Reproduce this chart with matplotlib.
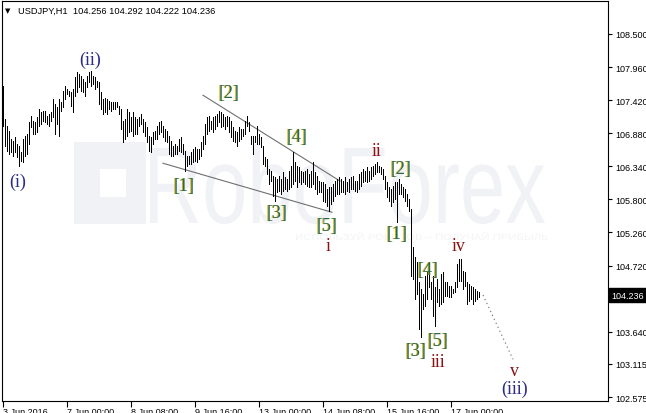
## USDJPY H1 BAR CHART WITH WAVE COUNT ##
import matplotlib
matplotlib.use("Agg")
import matplotlib.pyplot as plt
import matplotlib.transforms as mtransforms
from matplotlib.textpath import TextPath
from matplotlib.patches import PathPatch, Rectangle
from matplotlib.font_manager import FontProperties


## DATA ##
# one H1 bar per entry, first bar 3 Jun 2016 16:00
bar_high = [
    107.65, 107.11, 107.00, 106.92, 106.79, 106.75, 106.82, 106.70, 106.67, 106.57,
    106.79, 106.84, 106.87, 107.06, 107.16, 107.08, 107.06, 107.15, 107.28, 107.23,
    107.24, 107.24, 107.16, 107.19, 107.23, 107.44, 107.36, 107.31, 107.44, 107.39,
    107.57, 107.65, 107.60, 107.57, 107.55, 107.60, 107.80, 107.88, 107.85, 107.81,
    107.77, 107.72, 107.81, 107.88, 107.90, 107.81, 107.80, 107.73, 107.72, 107.55,
    107.44, 107.45, 107.44, 107.41, 107.39, 107.39, 107.39, 107.39, 107.32, 107.28,
    107.08, 107.11, 107.28, 107.23, 107.15, 107.23, 107.15, 107.11, 107.15, 107.19,
    107.11, 107.06, 106.98, 106.84, 106.82, 106.90, 106.92, 107.00, 107.06, 107.08,
    107.00, 106.95, 106.92, 106.84, 106.75, 106.67, 106.70, 106.67, 106.79, 106.82,
    106.70, 106.59, 106.51, 106.51, 106.57, 106.62, 106.66, 106.62, 106.62, 106.74,
    106.84, 107.03, 107.15, 107.16, 107.08, 107.15, 107.16, 107.19, 107.24, 107.23,
    107.19, 107.15, 107.16, 107.15, 107.08, 106.98, 106.92, 106.90, 106.98, 106.95,
    106.95, 107.08, 107.16, 107.06, 106.84, 106.84, 106.84, 107.00, 106.87, 106.82,
    106.67, 106.49, 106.46, 106.30, 106.26, 106.18, 106.17, 106.13, 106.18, 106.13,
    106.25, 106.17, 106.13, 106.26, 106.35, 106.57, 106.41, 106.35, 106.33, 106.26,
    106.25, 106.26, 106.30, 106.21, 106.26, 106.41, 106.25, 106.18, 106.10, 106.08,
    106.08, 106.05, 105.97, 106.00, 106.00, 106.05, 106.10, 106.13, 106.17, 106.13,
    106.10, 106.17, 106.08, 106.13, 106.17, 106.18, 106.10, 106.10, 106.21, 106.25,
    106.30, 106.26, 106.33, 106.26, 106.33, 106.35, 106.38, 106.41, 106.35, 106.33,
    106.30, 106.18, 106.08, 106.00, 105.97, 106.02, 106.08, 106.08, 106.13, 106.05,
    106.00, 105.97, 105.89, 105.81, 105.64, 105.02, 104.86, 104.78, 104.45, 104.34,
    104.26, 104.55, 104.61, 104.75, 104.45, 104.55, 104.37, 104.50, 104.34, 104.58,
    104.61, 104.45, 104.45, 104.39, 104.39, 104.34, 104.45, 104.75, 104.83, 104.83,
    104.63, 104.61, 104.45, 104.42, 104.39, 104.37, 104.34, 104.31, 104.29,
]
bar_low = [
    107.00, 106.67, 106.59, 106.54, 106.57, 106.51, 106.57, 106.49, 106.35, 106.43,
    106.41, 106.51, 106.54, 106.70, 106.98, 106.87, 106.87, 106.90, 107.00, 107.03,
    107.08, 107.06, 107.03, 107.00, 107.08, 107.15, 106.87, 107.03, 106.84, 107.24,
    107.31, 107.44, 107.52, 107.49, 107.32, 107.23, 107.49, 107.55, 107.64, 107.57,
    107.55, 107.49, 107.64, 107.72, 107.65, 107.68, 107.60, 107.64, 107.36, 107.28,
    107.19, 107.23, 107.19, 107.28, 107.24, 107.28, 107.28, 107.31, 107.19, 106.95,
    106.74, 106.79, 106.84, 106.90, 106.92, 106.84, 106.87, 106.87, 107.00, 107.03,
    106.90, 106.84, 106.74, 106.59, 106.57, 106.70, 106.79, 106.79, 106.87, 106.90,
    106.82, 106.75, 106.74, 106.54, 106.51, 106.51, 106.54, 106.54, 106.59, 106.57,
    106.54, 106.26, 106.35, 106.38, 106.38, 106.41, 106.43, 106.41, 106.46, 106.51,
    106.62, 106.70, 106.87, 106.92, 106.95, 106.90, 106.95, 107.00, 107.06, 106.98,
    107.00, 106.95, 107.00, 106.90, 106.82, 106.75, 106.74, 106.67, 106.75, 106.79,
    106.84, 106.87, 107.00, 106.92, 106.70, 106.54, 106.74, 106.70, 106.70, 106.66,
    106.38, 106.35, 106.21, 106.05, 106.10, 105.86, 105.77, 105.92, 105.94, 105.89,
    105.94, 105.97, 105.94, 105.97, 106.00, 106.05, 106.10, 106.00, 106.08, 106.05,
    106.08, 106.05, 106.02, 106.00, 106.00, 106.05, 105.97, 105.89, 105.92, 105.92,
    105.77, 105.76, 105.69, 105.61, 105.72, 105.77, 105.86, 105.89, 105.89, 105.92,
    105.92, 105.89, 105.94, 105.92, 105.97, 105.97, 105.94, 105.92, 105.97, 106.02,
    106.08, 106.10, 106.08, 106.10, 106.13, 106.18, 106.21, 106.25, 106.25, 106.21,
    106.13, 105.97, 105.84, 105.77, 105.69, 105.76, 105.81, 105.43, 105.89, 105.89,
    105.84, 105.77, 105.69, 105.61, 104.55, 104.50, 104.17, 104.26, 103.68, 103.55,
    104.01, 104.06, 104.17, 104.37, 104.17, 103.90, 103.73, 104.12, 104.06, 104.09,
    104.12, 104.22, 104.22, 104.21, 104.21, 104.27, 104.29, 104.37, 104.47, 104.47,
    104.34, 104.39, 104.09, 104.14, 104.17, 104.09, 104.14, 104.17, 104.21,
]

tick_bars = [0, 32, 64, 96, 128, 160, 192, 224]
tick_labels = ["3 Jun 2016", "7 Jun 00:00", "8 Jun 08:00", "9 Jun 16:00",
               "13 Jun 00:00", "14 Jun 08:00", "15 Jun 16:00", "17 Jun 00:00"]
price_ticks = [108.500, 107.960, 107.420, 106.880, 106.340, 105.800,
               105.260, 104.720, 104.180, 103.640, 103.115, 102.575]
last_price = 104.236
header = "USDJPY,H1  104.256 104.292 104.222 104.236"

# wave count marks
wave_text = ["(i)", "(ii)", "[1]", "[2]", "[3]", "[4]", "[5]", "i",
             "ii", "[1]", "[2]", "[3]", "[4]", "[5]", "iii", "iv", "v", "(iii)"]
wave_bar = [7.5, 43.5, 90.5, 113, 137, 147, 162, 162.5,
            187, 197, 199, 206.5, 212.5, 217.5, 217.5, 228, 256, 256]
wave_price = [106.10, 108.09, 106.03, 107.54, 105.59, 106.82, 105.38, 105.04,
              106.59, 105.25, 106.30, 103.33, 104.65, 103.49, 103.15, 105.04, 103.00, 102.72]

# wedge lines and forecast (bar, price)
upper_bars, upper_prices = [100, 168.5], [107.50, 106.10]
lower_bars, lower_prices = [80, 164.5], [106.39, 105.59]
fc_bars, fc_prices = [240, 255], [104.24, 103.19]


## HELPERS ##
W, H = 646, 414

def fx(px):
    return px / W

def fy(py):
    return 1 - py / H

def wave_mark(ax, text, x, y):
    if text.startswith("["):
        # gold shadow a pixel to the left, teal on top
        shadow = mtransforms.offset_copy(ax.transData, fig=ax.figure, x=-1.2, y=0, units="dots")
        ax.text(x, y, text, transform=shadow, ha="center", va="center", fontsize=13,
                family="Liberation Serif", color="#d9a900", zorder=5)
        ax.text(x, y, text, ha="center", va="center", fontsize=13,
                family="Liberation Serif", color="#1f6b55", zorder=6)
    elif text.startswith("("):
        ax.text(x, y, text, ha="center", va="center", fontsize=13,
                family="Liberation Serif", color="#2b2b8a", zorder=6)
    else:
        ax.text(x, y, text, ha="center", va="center", fontsize=13,
                family="Liberation Serif", color="#8a1212", zorder=6)

def fitted_text(ax, text, x0, y_base, width, height, color, family):
    # stretch a text path into a pixel box (watermark)
    tp = TextPath((0, 0), text, size=100, prop=FontProperties(family=family))
    ext = tp.get_extents()
    sx = (width / W) / ext.width
    sy = (height / H) / ext.height
    tr = mtransforms.Affine2D().translate(-ext.x0, -ext.y0).scale(sx, sy) \
        .translate(fx(x0), fy(y_base)) + ax.figure.transFigure
    ax.add_patch(PathPatch(tp, transform=tr, facecolor=color, edgecolor="none", zorder=0))


## MAIN ##
fig = plt.figure(figsize=(W / 100, H / 100), dpi=100)
ax = fig.add_axes([fx(2), 12 / H, 606 / W, 400 / H])
ax.set_xlim(-0.5, 302.5)
ax.set_ylim(102.510, 109.038)

# watermark
wm = "#f0f2f6"
ax.add_patch(Rectangle((fx(74), fy(225)), 72 / W, 82 / H, transform=fig.transFigure,
                       facecolor=wm, edgecolor="none", zorder=0))
ax.add_patch(Rectangle((fx(100), fy(198)), 26 / W, 28 / H, transform=fig.transFigure,
                       facecolor="white", edgecolor="none", zorder=0))
fitted_text(ax, "RoboForex", 150, 225, 395, 80, wm, "Liberation Sans")
fitted_text(ax, "ИСПОЛЬЗУЙ РОБОТОВ – ПОЛУЧАЙ ПРИБЫЛЬ", 296, 241, 252, 8, "#f3f4f7", "Liberation Sans")

# bars, one pixel wide
n = len(bar_high)
ax.vlines(range(n), bar_low, bar_high, colors="black", linewidth=0.72, antialiased=False, zorder=3)

# wedge and projection
ax.plot(upper_bars, upper_prices, color="#707070", linewidth=0.8, zorder=2)
ax.plot(lower_bars, lower_prices, color="#707070", linewidth=0.8, zorder=2)
ax.plot(fc_bars, fc_prices, color="#808080", linewidth=0.9, linestyle=(0, (1, 2.5)), zorder=2)

for t, b, p in zip(wave_text, wave_bar, wave_price):
    wave_mark(ax, t, b, p)

# axes look
for s in ax.spines.values():
    s.set_linewidth(0.8)
    s.set_color("black")
ax.yaxis.tick_right()
ax.set_yticks(price_ticks)
ax.set_yticklabels(["%.3f" % v for v in price_ticks], family="Liberation Sans", fontsize=6.5)
ax.tick_params(axis="y", length=3, width=0.8, pad=2)
ax.set_xticks(tick_bars)
ax.set_xticklabels(tick_labels, family="Liberation Sans", fontsize=6.5, ha="left")
ax.tick_params(axis="x", length=4, width=0.8, pad=0.5)

# last price box
ax.annotate("%.3f" % last_price, xy=(1.0, last_price), xycoords=("axes fraction", "data"),
            xytext=(2.5, 0), textcoords="offset points", ha="left", va="center",
            fontsize=6.5, family="Liberation Sans", color="white", annotation_clip=False,
            bbox=dict(boxstyle="square,pad=0.25", facecolor="black", edgecolor="black"))

# header
fig.text(fx(5), fy(11), "▼", fontsize=5, family="DejaVu Sans", va="center")
fig.text(fx(18), fy(11), header, fontsize=6.7, family="Liberation Sans", va="center")

fig.savefig("out.png", dpi=100)
